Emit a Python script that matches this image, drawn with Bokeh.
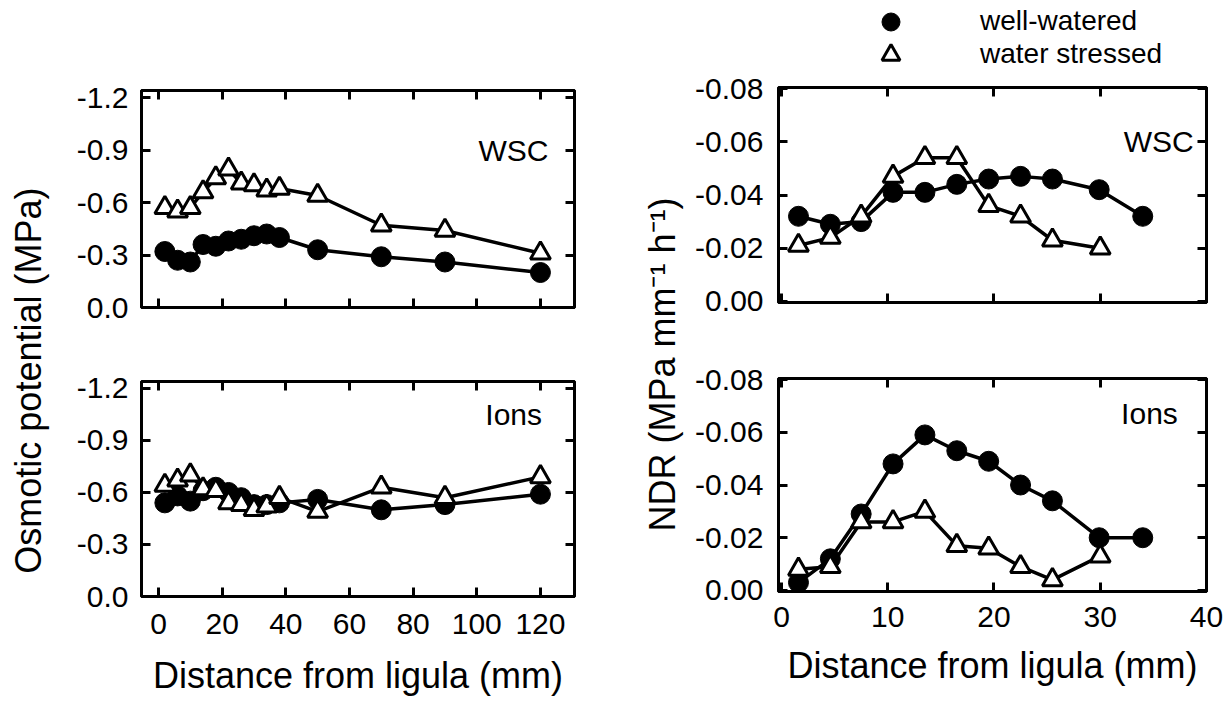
import math
from bokeh.plotting import figure
from bokeh.layouts import row, column
from bokeh.models import (Range1d, LinearAxis, FixedTicker, PrintfTickFormatter,
                          CustomJSTickFormatter, Label, Legend, LegendItem)
from bokeh.embed import file_html
from bokeh.resources import INLINE

# ---------------- data ----------------
osm_x = [2, 6, 10, 14, 18, 22, 26, 30, 34, 38, 50, 70, 90, 120]
osm_wsc_ww = [-0.32, -0.27, -0.26, -0.36, -0.35, -0.38, -0.39, -0.41, -0.42, -0.40, -0.33, -0.29, -0.26, -0.20]
osm_wsc_ws = [-0.57, -0.55, -0.57, -0.66, -0.74, -0.79, -0.71, -0.70, -0.67, -0.68, -0.64, -0.47, -0.44, -0.31]
osm_ion_ww = [-0.54, -0.58, -0.55, -0.61, -0.63, -0.60, -0.57, -0.53, -0.53, -0.54, -0.56, -0.50, -0.53, -0.59]
osm_ion_ws = [-0.64, -0.67, -0.70, -0.62, -0.61, -0.54, -0.53, -0.50, -0.52, -0.57, -0.49, -0.63, -0.57, -0.69]

ndr_x_ww = [1.6, 4.6, 7.5, 10.5, 13.5, 16.5, 19.5, 22.5, 25.5, 29.9, 34.0]
ndr_x_ws = [1.6, 4.6, 7.5, 10.5, 13.5, 16.5, 19.5, 22.5, 25.5, 30.0]
ndr_wsc_ww = [-0.032, -0.029, -0.030, -0.041, -0.041, -0.044, -0.046, -0.047, -0.046, -0.042, -0.032]
ndr_wsc_ws = [-0.021, -0.024, -0.032, -0.047, -0.054, -0.054, -0.036, -0.032, -0.023, -0.020]
ndr_ion_ww = [-0.003, -0.012, -0.029, -0.048, -0.059, -0.053, -0.049, -0.040, -0.034, -0.020, -0.020]
ndr_ion_ws = [-0.008, -0.009, -0.026, -0.026, -0.030, -0.017, -0.016, -0.009, -0.004, -0.013]

osm_xticks = [0, 20, 40, 60, 80, 100, 120]
osm_yticks = [0.0, -0.3, -0.6, -0.9, -1.2]
ndr_xticks = [0, 10, 20, 30, 40]
ndr_yticks = [0.0, -0.02, -0.04, -0.06, -0.08]

xlabel_text = "Distance from ligula (mm)"
ylabel_left = "Osmotic potential (MPa)"
ylabel_right = "NDR (MPa mm\u207b\u00b9 h\u207b\u00b9)"
series_names = ["well-watered", "water stressed"]

FONT = "Liberation Sans"
TICK_FS = "30px"
TITLE_FS = "36px"
LEGEND_FS = "28px"
MARKER = dict(ww=dict(marker="circle", size=20, fill_color="black", line_color="black"),
              ws=dict(marker="triangle", size=20, fill_color="white", line_color="black", line_width=3))


def style_axis(ax, labels, fmt=None, standoff=14):
    ax.axis_line_color = "black"
    ax.axis_line_width = 3
    ax.major_tick_line_color = "black"
    ax.major_tick_line_width = 3
    ax.major_tick_in = 9
    ax.major_tick_out = 0
    ax.minor_tick_line_color = None
    ax.major_label_text_font = FONT
    ax.major_label_text_font_size = TICK_FS
    ax.major_label_text_color = "black"
    ax.major_label_standoff = standoff
    if labels:
        ax.formatter = fmt
    else:
        ax.formatter = CustomJSTickFormatter(code="return ''")
        ax.major_label_standoff = 0


def make_panel(fw, fh, mb, xr, yr, xt, yt, yfmt, xlab, xlab_standoff=17, title_standoff=18,
               ylab_standoff=13):
    p = figure(frame_width=fw, frame_height=fh,
               min_border_left=mb[0], min_border_right=mb[1],
               min_border_top=mb[2], min_border_bottom=mb[3],
               x_range=Range1d(*xr), y_range=Range1d(*yr),
               x_axis_type=None, y_axis_type=None,
               toolbar_location=None, output_backend="svg",
               background_fill_color="white", border_fill_color="white")
    p.outline_line_color = "black"
    p.outline_line_width = 3
    b = LinearAxis(ticker=FixedTicker(ticks=xt))
    style_axis(b, xlab, PrintfTickFormatter(format="%d"), xlab_standoff)
    if xlab:
        b.axis_label = xlabel_text
        b.axis_label_text_font = FONT
        b.axis_label_text_font_size = TITLE_FS
        b.axis_label_text_font_style = "normal"
        b.axis_label_text_color = "black"
        b.axis_label_standoff = title_standoff
    p.add_layout(b, "below")
    a = LinearAxis(ticker=FixedTicker(ticks=xt))
    style_axis(a, False)
    p.add_layout(a, "above")
    l = LinearAxis(ticker=FixedTicker(ticks=yt))
    style_axis(l, True, PrintfTickFormatter(format=yfmt), ylab_standoff)
    p.add_layout(l, "left")
    r = LinearAxis(ticker=FixedTicker(ticks=yt))
    style_axis(r, False)
    p.add_layout(r, "right")
    return p


def draw_series(p, xw, yw, xs, ys):
    p.line(xw, yw, line_color="black", line_width=3.5)
    p.line(xs, ys, line_color="black", line_width=3.5)
    c = p.scatter(xw, yw, **MARKER["ww"])
    t = p.scatter(xs, ys, **MARKER["ws"])
    return c, t


def inner_label(p, x, y, text):
    p.add_layout(Label(x=x, y=y, text=text, text_align="right", text_baseline="middle",
                       text_font=FONT, text_font_size=TICK_FS, text_color="black"))


OSM_XR = (-5.34, 130.7)
OSM_YR = (0.0, -1.24)
NDR_XR = (-0.28, 40.0)
NDR_YR = (0.0004, -0.0804)

# left column
tl = make_panel(433, 217, (91, 56, 90, 33), OSM_XR, OSM_YR, osm_xticks, osm_yticks, "%.1f", False)
draw_series(tl, osm_x, osm_wsc_ww, osm_x, osm_wsc_ws)
inner_label(tl, 122.5, -0.9, "WSC")

bl = make_panel(433, 215, (91, 56, 41, 104), OSM_XR, OSM_YR, osm_xticks, osm_yticks, "%.1f", True)
draw_series(bl, osm_x, osm_ion_ww, osm_x, osm_ion_ws)
inner_label(bl, 120.5, -1.05, "Ions")

# right column
tr = make_panel(428, 215, (88, 20, 18, 38), NDR_XR, NDR_YR, ndr_xticks, ndr_yticks, "%.2f", False,
                ylab_standoff=15)
draw_series(tr, ndr_x_ww, ndr_wsc_ww, ndr_x_ws, ndr_wsc_ws)
inner_label(tr, 38.8, -0.06, "WSC")

br = make_panel(428, 213, (88, 20, 38, 108), NDR_XR, NDR_YR, ndr_xticks, ndr_yticks, "%.2f", True,
                xlab_standoff=15, title_standoff=15, ylab_standoff=15)
draw_series(br, ndr_x_ww, ndr_ion_ww, ndr_x_ws, ndr_ion_ws)
inner_label(br, 37.3, -0.067, "Ions")

# legend strip above the right column
lg = figure(width=536, height=69, x_range=Range1d(0, 1), y_range=Range1d(0, 1),
            x_axis_type=None, y_axis_type=None, min_border=0,
            toolbar_location=None, output_backend="svg",
            background_fill_color="white", border_fill_color="white")
lg.outline_line_color = None
h_ww = lg.scatter(ndr_x_ww, ndr_wsc_ww, visible=False, **MARKER["ww"])
h_ws = lg.scatter(ndr_x_ws, ndr_wsc_ws, visible=False, **MARKER["ws"])


def one_legend(label, rend, loc):
    return Legend(items=[LegendItem(label=label, renderers=[rend])],
                  location=loc, orientation="vertical",
                  glyph_width=45, glyph_height=45, padding=0, margin=0,
                  label_standoff=67, label_text_font=FONT, label_text_font_size=LEGEND_FS,
                  label_text_color="black",
                  background_fill_alpha=0, border_line_color=None)


lg.add_layout(one_legend(series_names[0], h_ww, (90, 25.5)), "center")
lg.add_layout(one_legend(series_names[1], h_ws, (90, -7.5)), "center")


def label_fig(w, h, x, y, text):
    f = figure(width=w, height=h, x_range=Range1d(0, 1), y_range=Range1d(0, 1),
               x_axis_type=None, y_axis_type=None, min_border=0,
               toolbar_location=None, output_backend="svg",
               background_fill_color="white", border_fill_color="white")
    f.outline_line_color = None
    f.add_layout(Label(x=x, y=y, text=text, angle=math.pi / 2,
                       text_align="center", text_baseline="middle",
                       text_font=FONT, text_font_size=TITLE_FS, text_color="black"))
    return f


lab_l = label_fig(50, 700, 0.56, 0.457, ylabel_left)
lab_r = label_fig(60, 700, 0.53, 0.48, ylabel_right)

layout = row(lab_l, column(tl, bl), lab_r, column(lg, tr, br))

open("out.html", "w").write(file_html(layout, INLINE))
